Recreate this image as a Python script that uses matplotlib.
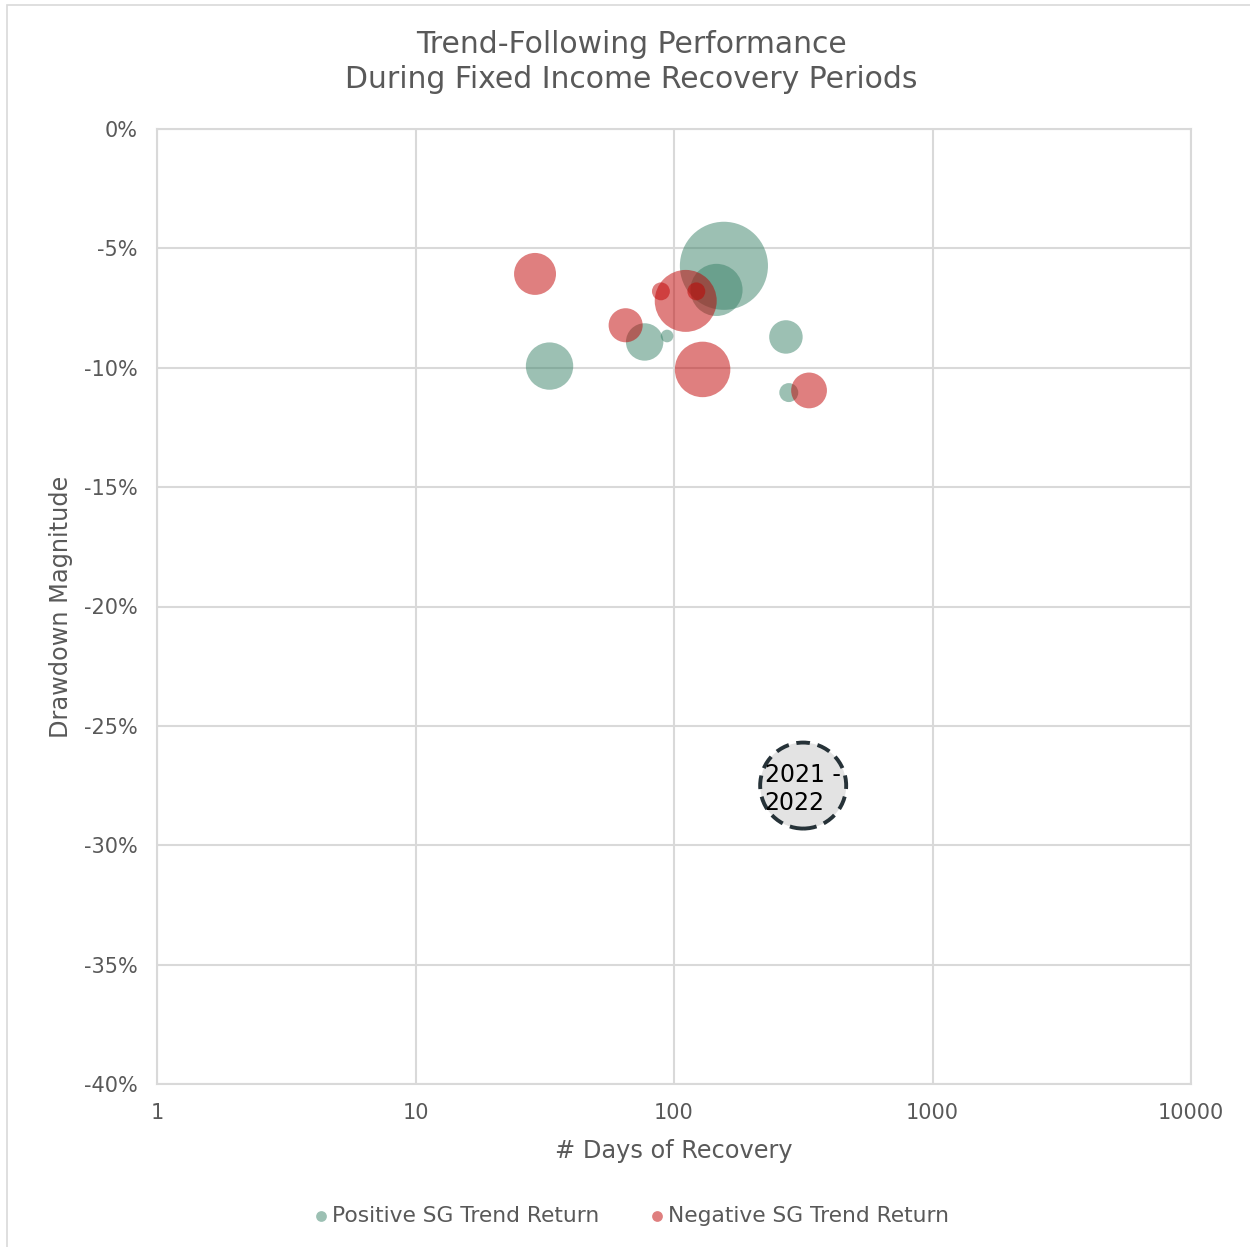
import numpy as np
import matplotlib
matplotlib.use("Agg")
import matplotlib.pyplot as plt
from matplotlib.patches import Rectangle
from matplotlib.ticker import FixedLocator, FuncFormatter

plt.rcParams['font.family'] = ['DejaVu Sans']

# Positive SG Trend return periods
pos_days = [156, 146, 77, 94, 33, 271, 278]
pos_drawdown = [-5.73, -6.74, -8.92, -8.67, -9.93, -8.71, -11.04]
pos_return = [19.4, 6.8, 3.5, 0.4, 5.6, 2.8, 0.9]

# Negative SG Trend return periods
neg_days = [29, 111, 89, 122, 65, 129, 333]
neg_drawdown = [-6.07, -7.2, -6.8, -6.8, -8.22, -10.07, -10.95]
neg_return = [4.4, 9.6, 0.8, 0.8, 2.9, 7.7, 3.2]

# 2021-2022 highlight
hl_days = 316
hl_drawdown = -27.5
hl_label = "2021 -\n2022"

x_ticks = [1, 10, 100, 1000, 10000]
y_ticks = [0, -5, -10, -15, -20, -25, -30, -35, -40]

GREEN = "#3a8269"
RED = "#c00000"
GREY_TXT = "#595959"
GRID = "#d9d9d9"

fig = plt.figure(figsize=(12.5, 12.47), dpi=100)
fig.patches.append(Rectangle((7 / 1250, -0.1), 1.2, 1 - 5 / 1247 + 0.1,
                             transform=fig.transFigure, fill=False,
                             edgecolor=GRID, linewidth=1.2))
ax = fig.add_axes([157 / 1250, 163 / 1247, 1034 / 1250, 955 / 1247])

scale = 207.4
ax.scatter(pos_days, pos_drawdown, s=np.array(pos_return) * scale, color=GREEN,
           alpha=0.5, linewidths=0, zorder=3, label="Positive SG Trend Return")
ax.scatter(neg_days, neg_drawdown, s=np.array(neg_return) * scale, color=RED,
           alpha=0.5, linewidths=0, zorder=3, label="Negative SG Trend Return")

ax.scatter([hl_days], [hl_drawdown], s=(2 * 43 * 0.72) ** 2, facecolor="#e3e3e3",
           edgecolor="#263238", linewidths=2.8, linestyle=(0, (3.5, 2)), zorder=4)
ax.text(hl_days * 0.71, hl_drawdown - 0.14, hl_label, ha="left", va="center",
        fontsize=17, color="black", linespacing=1.25, zorder=5)

ax.set_xscale("log")
ax.set_xlim(1, 10000)
ax.set_ylim(-40, 0)
ax.xaxis.set_major_locator(FixedLocator(x_ticks))
ax.xaxis.set_minor_locator(FixedLocator([]))
ax.xaxis.set_major_formatter(FuncFormatter(lambda v, p: f"{v:g}"))
ax.yaxis.set_major_locator(FixedLocator(y_ticks))
ax.yaxis.set_major_formatter(FuncFormatter(lambda v, p: f"{v:g}%"))

ax.grid(True, color=GRID, linewidth=1.5, zorder=0)
ax.set_axisbelow(True)
for sp in ax.spines.values():
    sp.set_color(GRID)
    sp.set_linewidth(1.5)
ax.tick_params(length=0, labelsize=15, colors=GREY_TXT, pad=14)

ax.set_xlabel("# Days of Recovery", fontsize=17.3, color=GREY_TXT, labelpad=11)
ax.set_ylabel("Drawdown Magnitude", fontsize=17.3, color=GREY_TXT, labelpad=8)

fig.text(0.505, 1 - 62 / 1247, "Trend-Following Performance\nDuring Fixed Income Recovery Periods",
         ha="center", va="center", fontsize=21.5, color=GREY_TXT, linespacing=1.22)

leg = fig.legend(handles=ax.collections[:2], loc="center", bbox_to_anchor=(0.505, 1 - 1216 / 1247),
                 ncol=2, frameon=False, fontsize=15.7, labelcolor=GREY_TXT,
                 handletextpad=0.15, columnspacing=2.3, handlelength=0.7)
for h in leg.legend_handles:
    h.set_sizes([60])

fig.savefig("out.png", dpi=100)
